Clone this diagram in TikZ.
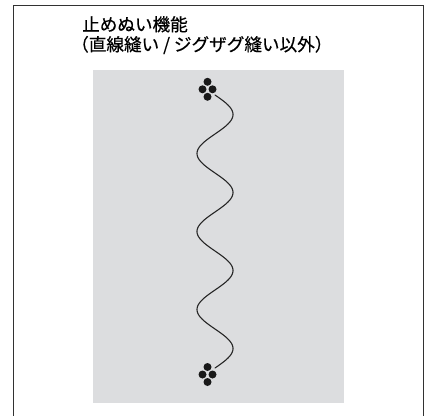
\documentclass[tikz,border=0pt]{standalone}
\usepackage{fontspec}
\newfontfamily\jpfont[FakeBold=0.5]{Noto Sans CJK JP}
\definecolor{fabricgray}{RGB}{220,221,223}
\definecolor{frameink}{RGB}{50,50,50}

\begin{document}
\begin{tikzpicture}[
  x=1pt, y=1pt,
  frame/.style={line width=1.5pt, frameink},
  stitch/.style={line width=1.1pt, black!85, line cap=round},
  knot/.style={black!90},
  caption/.style={font=\jpfont\fontsize{17.6}{20}\selectfont,
                  anchor=base west, inner sep=0pt},
]
\useasboundingbox (0,0) rectangle (427,415);

% -------------------------------------------------------------------------
% Outer frame, open at the bottom edge.
% -------------------------------------------------------------------------
\draw[frame] (13.5,-5) -- (13.5,409.5) -- (423.5,409.5) -- (423.5,-5);

\node[caption] (title) at (82,384) {止めぬい機能};
\node[caption] (subtitle) at (71,364) {（直線縫い / ジグザグ縫い以外）};

% -------------------------------------------------------------------------
% Fabric with a wavy seam, tied off by a knot at each end.
% -------------------------------------------------------------------------
\fill[fabricgray] (93,12) rectangle (344,345);

\coordinate (topknot) at (207.5,325.7);
\coordinate (bottomknot) at (207.5,40.5);

% Three and a half periods (1260 degrees) of the seam between the knots.
\draw[stitch] plot[domain=0:1260, samples=220]
  ({215+18*sin(\x)}, {320-0.21667*\x});

\foreach \knot in {topknot,bottomknot}
  \foreach \dx/\dy in {0/7.5,-5/0,5/0,0/-7.5}
    \fill[knot] ([shift={(\dx,\dy)}]\knot) circle (4);

\end{tikzpicture}
\end{document}
